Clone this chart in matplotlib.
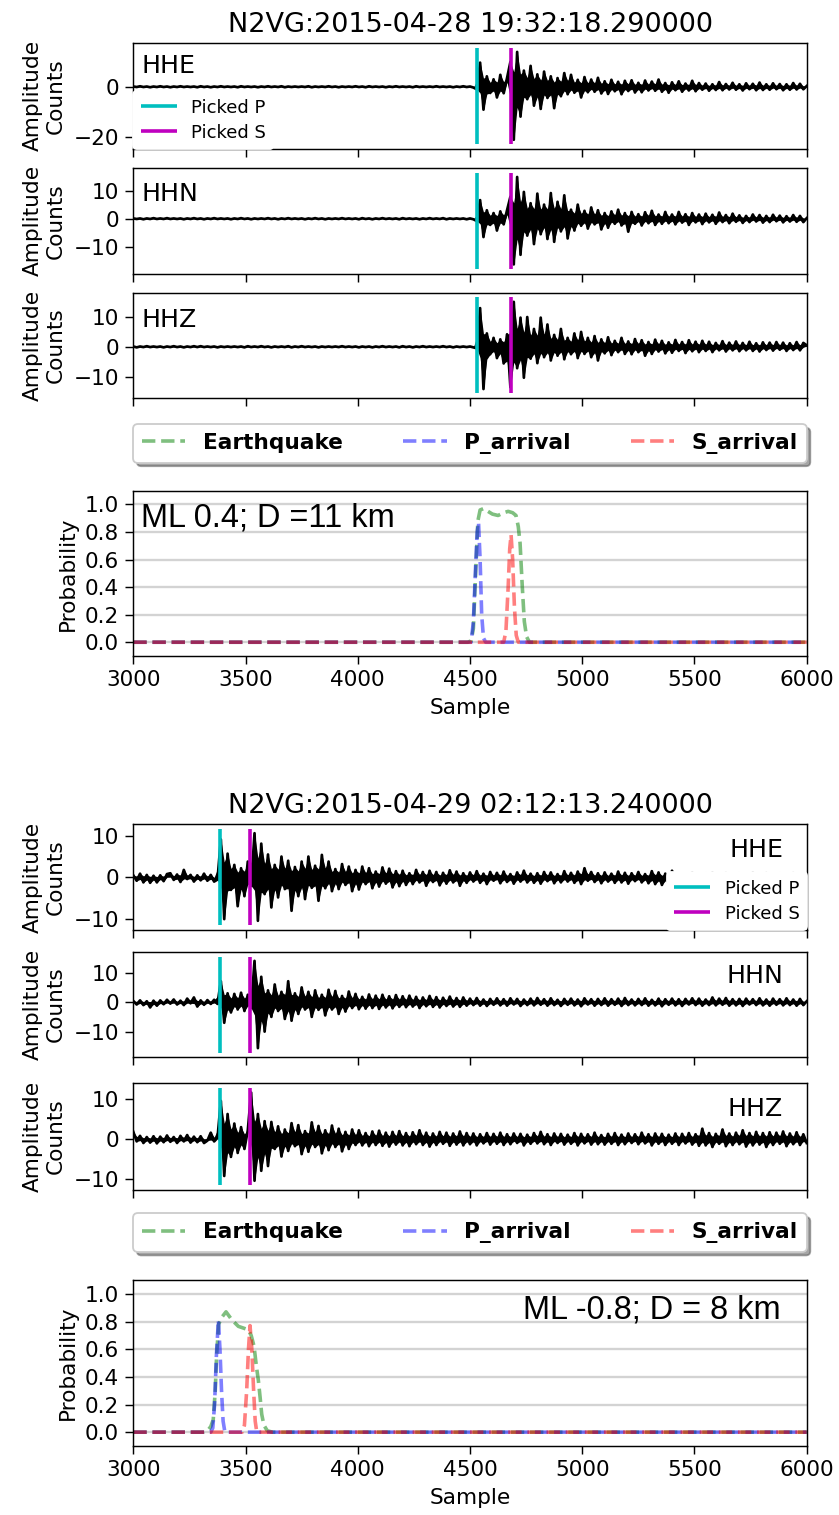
import numpy as np
import matplotlib as mpl
import matplotlib.pyplot as plt

mpl.rcParams['font.size'] = 12
mpl.rcParams['lines.linewidth'] = 1.5

# waveform samples: one value every 15 samples, starting at sample 3000
START = 3000
STEP = 15

# ---- event 1 -------------------------------------------------------------
g1_title = 'N2VG:2015-04-28 19:32:18.290000'
g1_note = 'ML 0.4; D =11 km'
g1_p_pick = 4532
g1_s_pick = 4681

g1_hhe = [
    0.1, -0.1, 0.2, -0.1, 0.1, -0.2, 0.1, -0.1, 0.2, -0.1,
    0.1, -0.2, 0.1, -0.1, 0.2, -0.1, 0.1, -0.1, 0.1, -0.2,
    0.2, -0.1, 0.1, -0.2, 0.1, -0.1, 0.2, -0.1, 0.1, -0.1,
    0.1, -0.2, 0.2, -0.1, 0.1, -0.1, 0.1, -0.2, 0.1, -0.1,
    0.2, -0.1, 0.1, -0.1, 0.2, -0.2, 0.1, -0.1, 0.1, -0.1,
    0.1, -0.1, 0.2, -0.2, 0.1, -0.1, 0.1, -0.1, 0.2, -0.1,
    0.1, -0.2, 0.1, -0.1, 0.1, -0.1, 0.2, -0.1, 0.1, -0.2,
    0.2, -0.1, 0.1, -0.1, 0.1, -0.2, 0.1, -0.1, 0.2, -0.1,
    0.1, -0.1, 0.1, -0.2, 0.2, -0.1, 0.1, -0.1, 0.1, -0.1,
    0.2, -0.1, 0.1, -0.1, 0.1, -0.2, 0.1, -0.1, 0.2, -0.1,
    0.1, -0.3, -1.0, 9.7, -9.2, 4.2, -2.5, 3.0, -4.3, 4.8,
    -2.6, 3.5, 10.0, -21.3, 14.0, -12.0, 6.5, -5.0, 8.4, -7.6,
    5.0, -8.9, 6.1, -4.5, 4.2, -8.6, 3.5, -3.8, 5.5, -3.0,
    4.8, -2.4, 2.8, -4.3, 3.9, -2.2, 2.9, -2.0, 3.6, -2.7,
    2.2, -2.9, 2.8, -1.8, 2.0, -3.0, 2.4, -1.7, 2.6, -2.3,
    1.6, -2.2, 2.5, -1.5, 2.1, -1.6, 2.9, -2.0, 1.5, -2.4,
    1.8, -1.4, 2.2, -2.0, 1.3, -1.5, 2.4, -1.8, 1.5, -1.2,
    1.3, -1.6, 1.0, -1.3, 1.9, -1.4, 1.1, -1.1, 1.6, -1.2,
    1.0, -1.5, 1.4, -1.0, 1.2, -1.4, 1.7, -1.3, 1.0, -1.2,
    1.4, -1.0, 1.1, -1.4, 1.0, -1.2, 1.5, -1.1, 1.2, -1.0,
    0.3,
]

g1_hhn = [
    0.1, -0.1, 0.1, -0.2, 0.1, -0.1, 0.2, -0.1, 0.1, -0.1,
    0.2, -0.1, 0.1, -0.1, 0.1, -0.2, 0.1, -0.1, 0.2, -0.1,
    0.1, -0.2, 0.1, -0.1, 0.2, -0.1, 0.1, -0.1, 0.1, -0.2,
    0.1, -0.1, 0.2, -0.1, 0.1, -0.2, 0.1, -0.1, 0.1, -0.1,
    0.2, -0.1, 0.1, -0.2, 0.1, -0.1, 0.2, -0.1, 0.1, -0.1,
    0.1, -0.2, 0.1, -0.1, 0.2, -0.1, 0.1, -0.2, 0.1, -0.1,
    0.1, -0.1, 0.2, -0.1, 0.1, -0.1, 0.1, -0.2, 0.2, -0.1,
    0.1, -0.2, 0.1, -0.1, 0.2, -0.1, 0.1, -0.1, 0.1, -0.2,
    0.2, -0.1, 0.1, -0.1, 0.1, -0.2, 0.1, -0.1, 0.2, -0.1,
    0.1, -0.1, 0.2, -0.2, 0.1, -0.1, 0.1, -0.1, 0.1, -0.2,
    0.1, -0.2, -0.8, 6.6, -6.5, 3.0, -2.2, 2.0, -4.2, 2.6,
    -2.0, 3.0, 7.8, -16.2, 14.8, -12.8, 9.5, -6.0, 5.5, -9.0,
    8.9, -5.5, 5.0, -7.2, 9.1, -8.2, 6.0, -4.5, 8.3, -7.0,
    3.2, -4.2, 5.0, -2.5, 2.8, -3.5, 4.0, -2.0, 3.0, -3.8,
    2.0, -3.2, 2.6, -1.8, 3.2, -2.4, 2.0, -4.6, 2.4, -1.8,
    1.6, -2.4, 2.3, -1.6, 2.8, -2.2, 1.5, -1.8, 2.4, -1.6,
    1.5, -2.0, 2.4, -1.4, 1.6, -2.2, 2.0, -1.3, 1.5, -1.9,
    1.8, -1.3, 1.4, -1.8, 2.2, -1.2, 1.3, -1.6, 1.8, -1.1,
    1.2, -1.5, 1.0, -1.2, 1.5, -1.0, 1.3, -1.4, 1.0, -1.2,
    1.4, -0.9, 1.1, -1.3, 0.9, -1.0, 1.3, -1.1, 1.0, -1.2,
    0.2,
]

g1_hhz = [
    0.1, -0.2, 0.1, -0.1, 0.2, -0.1, 0.1, -0.1, 0.1, -0.2,
    0.1, -0.1, 0.2, -0.1, 0.1, -0.2, 0.1, -0.1, 0.2, -0.1,
    0.2, -0.1, 0.1, -0.1, 0.1, -0.2, 0.1, -0.1, 0.1, -0.1,
    0.1, -0.1, 0.1, -0.2, 0.2, -0.1, 0.1, -0.1, 0.2, -0.1,
    0.1, -0.2, 0.1, -0.1, 0.1, -0.1, 0.2, -0.2, 0.1, -0.1,
    0.2, -0.1, 0.1, -0.1, 0.1, -0.2, 0.1, -0.1, 0.1, -0.1,
    0.1, -0.1, 0.2, -0.1, 0.1, -0.1, 0.1, -0.2, 0.1, -0.1,
    0.1, -0.2, 0.1, -0.1, 0.2, -0.1, 0.1, -0.1, 0.1, -0.2,
    0.2, -0.1, 0.1, -0.2, 0.1, -0.1, 0.2, -0.1, 0.1, -0.1,
    0.1, -0.1, 0.2, -0.1, 0.1, -0.2, 0.1, -0.1, 0.1, -0.1,
    0.1, -0.2, -0.5, 13.0, -14.2, 4.5, -2.5, 3.0, -3.8, 2.5,
    -5.6, 4.2, -13.6, 15.1, -7.2, 9.8, -10.4, 10.0, -4.0, 6.0,
    -5.5, 9.8, -3.5, 7.5, -4.6, 4.0, -3.0, 6.0, -4.2, 3.0,
    -2.5, 4.5, -3.8, 5.0, -2.4, 3.0, -3.5, 3.6, -4.6, 2.5,
    -2.2, 3.2, -2.8, 2.0, -1.8, 3.0, -2.4, 1.8, -2.5, 2.6,
    -1.8, 2.2, -3.0, 1.6, -2.4, 2.4, -1.6, 2.0, -2.2, 1.5,
    -2.0, 2.3, -1.4, 1.6, -2.1, 2.2, -1.5, 1.7, -1.8, 2.0,
    -1.4, 1.7, -1.8, 1.3, -1.2, 1.9, -1.6, 1.4, -1.2, 1.8,
    -1.5, 1.3, -1.2, 1.7, -1.4, 1.2, -1.6, 1.5, -1.1, 1.4,
    -1.3, 1.6, -1.0, 1.4, -1.4, 1.2, -1.1, 1.6, -1.2, 1.3,
    0.5,
]

g1_eq_x = [3000, 4490, 4505, 4515, 4525, 4535, 4545, 4560, 4580, 4600, 4625,
           4650, 4670, 4690, 4705, 4715, 4723, 4733, 4742, 4752, 4765, 6000]
g1_eq_y = [0, 0, 0.01, 0.1, 0.5, 0.88, 0.96, 0.97, 0.95, 0.93, 0.92,
           0.94, 0.95, 0.94, 0.92, 0.84, 0.72, 0.4, 0.15, 0.04, 0, 0]
g1_p_x = [3000, 4505, 4515, 4525, 4532, 4538, 4545, 4552, 4560, 4570, 6000]
g1_p_y = [0, 0, 0.15, 0.55, 0.8, 0.87, 0.6, 0.2, 0.03, 0, 0]
g1_s_x = [3000, 4650, 4660, 4670, 4677, 4683, 4690, 4698, 4706, 4715, 6000]
g1_s_y = [0, 0, 0.08, 0.4, 0.68, 0.78, 0.6, 0.25, 0.05, 0, 0]

# ---- event 2 -------------------------------------------------------------
g2_title = 'N2VG:2015-04-29 02:12:13.240000'
g2_note = 'ML -0.8; D = 8 km'
g2_p_pick = 3386
g2_s_pick = 3521

g2_hhe = [
    0.5, -0.8, 0.9, -1.2, 0.6, -1.3, 0.4, -1.2, 0.5, -0.9,
    0.8, 1.0, -0.6, 0.7, -1.1, 1.8, -0.4, 0.6, -1.0, 0.5,
    -0.7, 0.9, -0.8, 0.6, -1.0, -0.5, 9.1, -10.0, 5.7, -3.0,
    3.0, -6.9, 2.2, -4.5, 3.8, -2.0, 10.6, -10.4, 8.1, -4.0,
    5.5, -7.2, 3.0, -4.8, 5.0, -2.8, 4.0, -8.0, 2.5, -4.5,
    3.8, -5.2, 5.0, -2.5, 2.8, -5.6, 5.4, -2.6, 3.8, -3.3,
    2.0, -2.8, 3.2, -1.8, 2.6, -3.3, 1.8, -2.9, 2.6, -1.6,
    2.2, -2.6, 1.4, -2.2, 2.4, -1.5, 2.1, -2.4, 1.5, -2.1,
    1.6, -1.8, 1.0, -1.6, 1.8, -1.2, 1.3, -2.0, 1.6, -1.1,
    1.3, -1.9, 1.1, -1.5, 1.7, -1.2, 1.4, -2.0, 1.0, -1.3,
    1.2, -1.0, 1.5, -1.3, 0.9, -1.6, 1.3, -0.8, 1.1, -1.4,
    1.4, -1.1, 0.8, -1.5, 1.2, -1.0, 1.6, -1.2, 0.9, -1.3,
    1.0, -1.5, 1.3, -0.9, 1.2, -1.4, 0.8, -1.2, 1.5, -1.0,
    1.1, -1.3, 1.4, -1.6, 2.2, -0.8, 1.3, -1.1, 1.0, -1.4,
    1.2, -1.0, 0.9, -1.3, 1.4, -1.2, 1.1, -1.5, 1.0, -0.9,
    1.3, -1.2, 0.8, -1.4, 1.5, -1.6, 1.2, -1.8, 0.9, -1.5,
    1.6, -0.6, 1.0, -0.8, 0.9, -1.0, 1.2, -0.7, 0.8, -1.1,
    1.0, -0.8, 1.2, -0.9, 0.7, -1.0, 1.1, -0.8, 0.9, -0.7,
    1.0, -0.9, 0.8, -1.0, 1.2, -0.7, 0.9, -0.8, 1.1, -0.9,
    0.8, -1.0, 1.0, -0.7, 0.9, -0.8, 1.1, -0.9, 0.8, -1.0,
    0.2,
]

g2_hhn = [
    0.4, -0.8, 0.6, -1.0, 0.3, -1.8, 0.5, -1.2, 0.6, -0.7,
    0.8, -0.5, 0.9, -0.8, 0.5, -1.0, 1.2, -0.4, 1.6, -1.5,
    0.6, -0.9, 0.7, -0.6, 0.8, -0.6, 7.1, -7.0, 3.0, -3.5,
    2.8, -2.5, 3.2, -3.0, 2.5, -2.0, 14.0, -15.6, 8.6, -10.0,
    4.0, -5.0, 6.0, -3.0, 3.5, -5.7, 7.1, -6.3, 3.0, -4.0,
    5.0, -2.5, 3.5, -5.0, 4.0, -2.6, 2.5, -4.5, 4.2, -2.5,
    3.8, -4.0, 2.1, -3.2, 3.6, -2.0, 2.8, -2.4, 1.8, -2.2,
    2.6, -2.0, 2.2, -2.3, 2.5, -1.8, 2.0, -2.1, 2.4, -1.6,
    2.0, -1.7, 2.2, -1.5, 1.8, -2.0, 1.6, -1.4, 2.1, -1.6,
    1.7, -1.8, 1.5, -1.3, 1.9, -1.5, 1.4, -1.6, 1.6, -1.2,
    1.2, -1.0, 1.4, -1.2, 0.9, -1.3, 1.1, -0.9, 1.3, -1.1,
    1.0, -1.2, 1.3, -0.8, 1.1, -1.3, 0.9, -1.0, 1.2, -1.1,
    1.4, -0.9, 1.0, -1.2, 1.3, -1.0, 0.8, -1.3, 1.1, -0.9,
    1.2, -1.1, 0.9, -1.4, 1.3, -0.8, 1.0, -1.2, 1.1, -1.0,
    1.3, -1.2, 1.0, -0.9, 1.2, -1.3, 1.4, -1.0, 0.9, -1.1,
    1.1, -1.0, 1.3, -1.2, 0.8, -1.1, 1.2, -1.4, 1.0, -0.9,
    1.2, -1.1, 1.0, -1.3, 1.1, -0.8, 1.3, -1.0, 1.2, -1.2,
    0.9, -1.0, 1.6, -1.1, 1.2, -0.9, 1.4, -1.2, 1.0, -1.1,
    1.1, -1.3, 1.2, -0.8, 1.0, -1.0, 1.3, -1.1, 0.9, -1.2,
    1.2, -0.9, 1.0, -1.1, 1.3, -1.0, 0.9, -1.2, 1.1, -1.0,
    0.3,
]

g2_hhz = [
    1.8, -0.6, 0.8, -1.0, 0.5, -0.9, 0.7, -1.1, 0.6, -0.8,
    0.9, -0.7, 0.5, -1.0, 0.8, -0.6, 1.0, -0.9, 0.6, -0.8,
    0.7, -1.0, -0.4, 1.6, -0.6, 0.3, 9.6, -9.3, 6.3, -4.5,
    3.9, -3.5, 3.0, -2.5, 2.2, 11.7, -10.5, 6.3, -8.0, 4.5,
    -6.8, 4.3, -2.5, 3.2, -4.4, 2.4, -3.0, 4.0, -1.8, 3.5,
    -3.8, 2.0, -3.2, 4.2, -2.0, 3.3, -3.6, 2.2, -2.8, 3.4,
    -2.0, 2.6, -3.1, 1.8, -2.5, 2.4, -1.5, 2.2, -1.6, 1.5,
    -1.8, 1.9, -1.5, 2.1, -1.7, 1.6, -1.9, 1.8, -1.4, 2.0,
    -1.6, 1.5, -1.8, 1.7, -1.3, 2.2, -1.5, 1.6, -1.9, 1.4,
    -1.5, 1.8, -1.2, 1.6, -1.7, 1.4, -1.4, 1.9, -1.6, 1.5,
    -1.3, 1.4, -1.6, 1.2, -1.1, 1.5, -1.4, 1.3, -1.2, 1.6,
    -1.5, 1.2, -1.3, 1.4, -1.0, 1.3, -1.6, 1.1, -1.2, 1.5,
    -1.1, 1.8, -1.3, 1.2, -1.5, 1.4, -1.0, 1.3, -1.4, 1.1,
    -1.2, 1.5, -1.6, 1.3, -1.1, 1.2, -1.4, 1.6, -1.3, 1.0,
    -1.4, 1.3, -1.2, 1.5, -1.5, 1.1, -1.3, 1.4, -1.0, 1.2,
    -1.3, 1.6, -1.1, 1.2, -1.6, 1.4, -1.2, 1.3, -1.5, 1.1,
    -1.2, 1.4, -1.5, 1.3, -1.1, 1.5, -1.4, 1.2, -1.7, 2.6,
    -1.6, 1.5, -2.0, 1.3, -1.2, 2.4, -1.8, 1.4, -1.5, 1.6,
    -1.3, 2.2, -1.9, 1.5, -1.6, 1.8, -1.4, 1.5, -2.0, 1.7,
    -1.5, 1.6, -1.2, 1.9, -1.8, 1.4, -1.3, 1.7, -1.5, 1.2,
    -1.0,
]

g2_eq_x = [3000, 3310, 3330, 3345, 3356, 3365, 3371, 3380, 3394, 3413, 3440, 3468,
           3495, 3512, 3525, 3538, 3548, 3557, 3565, 3572, 3582, 3597, 3620, 6000]
g2_eq_y = [0, 0, 0.01, 0.04, 0.09, 0.3, 0.55, 0.78, 0.83, 0.87, 0.81, 0.765,
           0.75, 0.74, 0.70, 0.62, 0.48, 0.376, 0.25, 0.13, 0.05, 0.01, 0, 0]
g2_p_x = [3000, 3345, 3354, 3362, 3370, 3379, 3386, 3393, 3400, 3408, 6000]
g2_p_y = [0, 0, 0.03, 0.2, 0.55, 0.81, 0.6, 0.3, 0.08, 0, 0]
g2_s_x = [3000, 3485, 3495, 3505, 3513, 3520, 3528, 3536, 3543, 3550, 6000]
g2_s_y = [0, 0, 0.05, 0.3, 0.6, 0.77, 0.6, 0.3, 0.08, 0, 0]

channels = ['HHE', 'HHN', 'HHZ']
wave_yticks_g1 = [[-20, 0], [-10, 0, 10], [-10, 0, 10]]
wave_yticks_g2 = [[-10, 0, 10], [-10, 0, 10], [-10, 0, 10]]
sample_ticks = [3000, 3500, 4000, 4500, 5000, 5500, 6000]
prob_ticks = [0.0, 0.2, 0.4, 0.6, 0.8, 1.0]

# layout (figure fractions)
LEFT, WIDTH = 0.1589, 0.8026
events = [
    dict(title=g1_title, note=g1_note, p=g1_p_pick, s=g1_s_pick,
         traces=[g1_hhe, g1_hhn, g1_hhz], yticks=wave_yticks_g1,
         eq=(g1_eq_x, g1_eq_y), pp=(g1_p_x, g1_p_y), ss=(g1_s_x, g1_s_y),
         boxes=[(0.90165, 0.07016), (0.81941, 0.06984), (0.73716, 0.06964)],
         prob_box=(0.56700, 0.10911),
         lab_x=0.0125, lab_ha='left', lab_y=[0.715, 0.682, 0.672],
         leg_loc='lower left', note_xy=(0.011, 0.782), note_ha='left'),
    dict(title=g2_title, note=g2_note, p=g2_p_pick, s=g2_s_pick,
         traces=[g2_hhe, g2_hhn, g2_hhz], yticks=wave_yticks_g2,
         eq=(g2_eq_x, g2_eq_y), pp=(g2_p_x, g2_p_y), ss=(g2_s_x, g2_s_y),
         boxes=[(0.38614, 0.06997), (0.30211, 0.06970), (0.21452, 0.07043)],
         prob_box=(0.04554, 0.10957),
         lab_x=0.965, lab_ha='right', lab_y=[0.69, 0.70, 0.694],
         leg_loc='lower right', note_xy=(0.961, 0.769), note_ha='right'),
]


def envelope(trace, k=0.5):
    """Band swept by the trace between its own peaks (partly filled)."""
    t = np.asarray(trace, dtype=float)
    mid = t.copy()
    mid[1:-1] = (t[:-2] + t[2:]) / 2
    return np.minimum(t, k * mid), np.maximum(t, k * mid)


fig = plt.figure(figsize=(839 / 130, 1515 / 130), dpi=130)

for ev in events:
    for k, trace in enumerate(ev['traces']):
        b, h = ev['boxes'][k]
        ax = fig.add_axes([LEFT, b, WIDTH, h])
        x = START + STEP * np.arange(len(trace))
        lo, hi = envelope(trace)
        ax.fill_between(x, lo, hi, color='k', linewidth=0)
        ax.plot(x, trace, 'k')
        ymin, ymax = ax.get_ylim()
        pl = ax.vlines(ev['p'], ymin, ymax, color='c', linewidth=2, label='Picked P')
        sl = ax.vlines(ev['s'], ymin, ymax, color='m', linewidth=2, label='Picked S')
        ax.set_xlim(3000, 6000)
        ax.set_xticks(sample_ticks)
        ax.set_xticklabels([])
        ax.set_yticks(ev['yticks'][k])
        ax.tick_params(length=4.5)
        ax.set_ylabel('Amplitude\nCounts')
        ax.text(ev['lab_x'], ev['lab_y'][k], channels[k], transform=ax.transAxes,
                ha=ev['lab_ha'], va='baseline', fontsize=14)
        if k == 0:
            ax.set_title(ev['title'], fontsize=15)
            ax.legend(handles=[pl, sl], loc=ev['leg_loc'], borderaxespad=0.,
                      fontsize=10, framealpha=1, edgecolor='white', labelspacing=0.4)

    b, h = ev['prob_box']
    ax = fig.add_axes([LEFT, b, WIDTH, h])
    ax.plot(*ev['eq'], 'g--', alpha=0.5, linewidth=2, label='Earthquake')
    ax.plot(*ev['pp'], 'b--', alpha=0.5, linewidth=2, label='P_arrival')
    ax.plot(*ev['ss'], 'r--', alpha=0.5, linewidth=2, label='S_arrival')
    ax.set_ylim(-0.1, 1.1)
    ax.set_xlim(3000, 6000)
    ax.set_xticks(sample_ticks)
    ax.set_yticks(prob_ticks)
    ax.tick_params(length=4.5)
    ax.grid(axis='y', color='lightgray', linewidth=1.3)
    ax.set_axisbelow(True)
    ax.set_ylabel('Probability')
    ax.set_xlabel('Sample')
    ax.legend(loc='lower center', bbox_to_anchor=(0., 1.17, 1., .102), ncol=3,
              mode='expand', prop={'weight': 'bold', 'size': 12},
              borderaxespad=0., fancybox=True, shadow=True)
    ax.text(ev['note_xy'][0], ev['note_xy'][1], ev['note'], transform=ax.transAxes,
            ha=ev['note_ha'], va='baseline', fontsize=18, family='Liberation Sans')

fig.savefig('out.png', dpi=130)
